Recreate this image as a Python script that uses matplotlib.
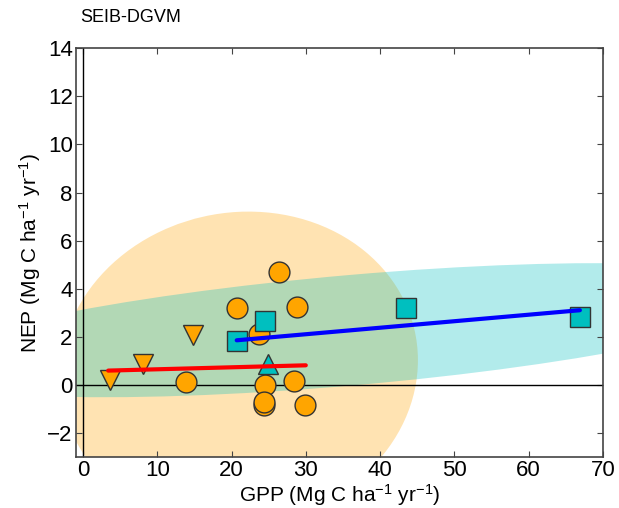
import matplotlib
matplotlib.use("Agg")
import matplotlib.pyplot as plt
from matplotlib.patches import Ellipse

plt.rcParams['font.family'] = ['Liberation Sans', 'DejaVu Sans']
plt.rcParams['mathtext.fontset'] = 'custom'
plt.rcParams['mathtext.rm'] = 'Liberation Sans'
plt.rcParams['mathtext.default'] = 'regular'

# orange sites (circles)
gpp_circ = [26.4, 20.7, 28.8, 23.7, 13.9, 24.5, 28.4, 24.4, 24.4, 29.9]
nep_circ = [4.68, 3.22, 3.25, 2.14, 0.11, 0.02, 0.17, -0.85, -0.71, -0.85]

# orange sites (down triangles)
gpp_tri = [3.6, 8.1, 14.75]
nep_tri = [0.22, 0.88, 2.10]

# cyan sites (squares)
gpp_sq = [20.8, 24.5, 43.5, 66.9]
nep_sq = [1.83, 2.68, 3.19, 2.81]

# cyan site (up triangle)
gpp_up = [24.85]
nep_up = [0.88]

# regression lines (end points)
red_x = [3.4, 30.0]
red_y = [0.60, 0.82]
blue_x = [20.7, 66.9]
blue_y = [1.86, 3.11]

# shaded ellipses: centre x, centre y, width, height, angle
orange_ell = (21.0, 0.68, 48.2, 13.04, 0.9)
cyan_ell = (36.1, 2.28, 118.0, 4.6, 1.53)

fig = plt.figure(figsize=(6.19, 5.08), dpi=100)
ax = fig.add_axes([0.122, 0.100, 0.852, 0.805])

cx, cy, w, h, ang = orange_ell
ax.add_patch(Ellipse((cx, cy), w, h, angle=ang, facecolor='orange',
                     edgecolor='none', alpha=0.3, zorder=1))
cx, cy, w, h, ang = cyan_ell
ax.add_patch(Ellipse((cx, cy), w, h, angle=ang, facecolor='c',
                     edgecolor='none', alpha=0.3, zorder=1.1))

ax.axhline(0, color='black', lw=1, zorder=2)
ax.axvline(0, color='black', lw=1, zorder=2)

mk = dict(markersize=15, markeredgecolor='#333333', markeredgewidth=1,
          linestyle='none', zorder=3)
ax.plot(gpp_circ, nep_circ, 'o', color='orange', **mk)
ax.plot(gpp_tri, nep_tri, 'v', color='orange', **mk)
ax.plot(gpp_sq, nep_sq, 's', color='c', **mk)
ax.plot(gpp_up, nep_up, '^', color='c', **mk)

ax.plot(red_x, red_y, color='red', lw=3, solid_capstyle='round', zorder=4)
ax.plot(blue_x, blue_y, color='blue', lw=3, solid_capstyle='round', zorder=4)

ax.set_xlim(-1, 70)
ax.set_ylim(-3, 14)
ax.set_xticks(range(0, 71, 10))
ax.set_yticks(range(-2, 15, 2))
ax.tick_params(direction='in', top=True, right=True, length=4, pad=2,
               labelsize=16, color='#444444')
for s in ax.spines.values():
    s.set_color('#444444')
    s.set_linewidth(1.2)

ax.set_xlabel('GPP (Mg C ha$^{-1}$ yr$^{-1}$)', fontsize=15, labelpad=1)
ax.set_ylabel('NEP (Mg C ha$^{-1}$ yr$^{-1}$)', fontsize=15, labelpad=3)
fig.text(0.13, 0.966, 'SEIB-DGVM', ha='left', va='center', fontsize=13)

fig.savefig('out.png', dpi=100)
